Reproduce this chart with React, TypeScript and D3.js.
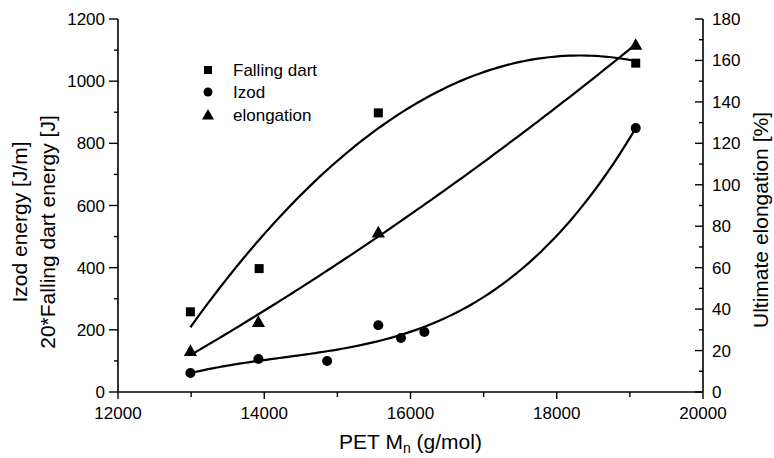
import React from "react";
import * as d3 from "d3";

const dartX = [12990, 13930, 15560, 19080];
const dartY = [258, 397, 898, 1058];
const izodX = [12990, 13920, 14860, 15560, 15870, 16190, 19080];
const izodY = [61, 106, 100, 215, 174, 193, 849];
const elongX = [12990, 13920, 15560, 19080];
const elongY = [19.8, 33.8, 77, 167.5];

const xTicks = [12000, 14000, 16000, 18000, 20000];
const leftTicks = [0, 200, 400, 600, 800, 1000, 1200];
const rightTicks = [0, 20, 40, 60, 80, 100, 120, 140, 160, 180];

const legendItems = ["Falling dart", "Izod", "elongation"];

function polyfit(xs: number[], ys: number[], deg: number) {
  const x0 = 16000, s = 1000;
  const n = deg + 1;
  const A: number[][] = Array.from({ length: n }, () => new Array(n + 1).fill(0));
  xs.forEach((xv, k) => {
    const u = (xv - x0) / s;
    for (let i = 0; i < n; i++) {
      for (let j = 0; j < n; j++) A[i][j] += Math.pow(u, i + j);
      A[i][n] += Math.pow(u, i) * ys[k];
    }
  });
  for (let i = 0; i < n; i++) {
    let p = i;
    for (let r = i + 1; r < n; r++) if (Math.abs(A[r][i]) > Math.abs(A[p][i])) p = r;
    [A[i], A[p]] = [A[p], A[i]];
    for (let r = 0; r < n; r++) {
      if (r === i) continue;
      const f = A[r][i] / A[i][i];
      for (let c = i; c <= n; c++) A[r][c] -= f * A[i][c];
    }
  }
  const coef = A.map((row, i) => row[n] / row[i]);
  return (xv: number) => {
    const u = (xv - x0) / s;
    return coef.reduce((acc, c, i) => acc + c * Math.pow(u, i), 0);
  };
}

const FONT = "'Liberation Sans', Arial, Helvetica, sans-serif";

export default function App() {
  const W = 774, H = 458;
  const L = 118, R = 703, T = 19, B = 392;
  const x = d3.scaleLinear().domain([12000, 20000]).range([L, R]);
  const yL = d3.scaleLinear().domain([0, 1200]).range([B, T]);
  const yR = d3.scaleLinear().domain([0, 180]).range([B, T]);

  const fitDart = polyfit(dartX, dartY, 2);
  const fitIzod = polyfit(izodX, izodY, 3);
  const fitElong = polyfit(elongX, elongY, 2);

  const samples = (lo: number, hi: number) => d3.range(0, 101).map((i) => lo + ((hi - lo) * i) / 100);
  const lineL = d3.line<[number, number]>().x((d) => x(d[0])).y((d) => yL(d[1]));
  const lineR = d3.line<[number, number]>().x((d) => x(d[0])).y((d) => yR(d[1]));

  const dartPath = lineL(samples(d3.min(dartX)!, d3.max(dartX)!).map((v) => [v, fitDart(v)] as [number, number]));
  const izodPath = lineL(samples(d3.min(izodX)!, d3.max(izodX)!).map((v) => [v, fitIzod(v)] as [number, number]));
  const elongPath = lineR(samples(d3.min(elongX)!, d3.max(elongX)!).map((v) => [v, fitElong(v)] as [number, number]));

  const sq = 9;
  const tri = (cx: number, cy: number, s: number) =>
    `M${cx},${cy - s * 0.6}L${cx + s * 0.6},${cy + s * 0.45}L${cx - s * 0.6},${cy + s * 0.45}Z`;

  const xMinor = d3.range(12000, 20001, 1000);
  const lMinor = d3.range(0, 1201, 100);
  const rMinor = d3.range(0, 181, 10);

  return (
    <svg width={W} height={H} style={{ position: "absolute", left: 0, top: 0, background: "#fff" }} fontFamily={FONT}>
      <rect width={W} height={H} fill="#fff" />
      {/* axes */}
      <line x1={L} y1={T} x2={L} y2={B} stroke="#000" strokeWidth={1.6} />
      <line x1={R} y1={T} x2={R} y2={B} stroke="#000" strokeWidth={1.6} />
      <line x1={L} y1={B} x2={R} y2={B} stroke="#000" strokeWidth={1.6} />
      {/* left ticks */}
      {lMinor.map((v) => (
        <line key={"lm" + v} x1={L} x2={L - (v % 200 === 0 ? 9 : 4)} y1={yL(v)} y2={yL(v)} stroke="#000" strokeWidth={1.4} />
      ))}
      {leftTicks.map((v) => (
        <text key={"lt" + v} x={L - 13} y={yL(v) + 6} textAnchor="end" fontSize={17}>{v}</text>
      ))}
      {/* right ticks */}
      {rMinor.map((v) => (
        <line key={"rm" + v} x1={R} x2={R - (v % 20 === 0 ? 8 : 4)} y1={yR(v)} y2={yR(v)} stroke="#000" strokeWidth={1.4} />
      ))}
      {rightTicks.map((v) => (
        <text key={"rt" + v} x={R + 9} y={yR(v) + 6} textAnchor="start" fontSize={17}>{v}</text>
      ))}
      {/* bottom ticks */}
      {xMinor.map((v) => (
        <line key={"xm" + v} x1={x(v)} x2={x(v)} y1={B} y2={B + (v % 2000 === 0 ? 7 : 5)} stroke="#000" strokeWidth={1.4} />
      ))}
      {xTicks.map((v) => (
        <text key={"xt" + v} x={x(v)} y={B + 27} textAnchor="middle" fontSize={17}>{v}</text>
      ))}
      {/* axis titles */}
      <text x={(L + R) / 2} y={449} textAnchor="middle" fontSize={21}>
        PET M<tspan fontSize={14} dy={4}>n</tspan><tspan dy={-4}> (g/mol)</tspan>
      </text>
      <text transform={`translate(27,${222}) rotate(-90)`} textAnchor="middle" fontSize={21}>Izod energy [J/m]</text>
      <text transform={`translate(55,${232}) rotate(-90)`} textAnchor="middle" fontSize={21}>20*Falling dart energy [J]</text>
      <text transform={`translate(768,${220}) rotate(-90)`} textAnchor="middle" fontSize={21}>Ultimate elongation [%]</text>
      {/* curves */}
      <path d={dartPath!} fill="none" stroke="#000" strokeWidth={2.2} />
      <path d={izodPath!} fill="none" stroke="#000" strokeWidth={2.2} />
      <path d={elongPath!} fill="none" stroke="#000" strokeWidth={2.2} />
      {/* markers */}
      {dartX.map((v, i) => (
        <rect key={"d" + i} x={x(v) - sq / 2} y={yL(dartY[i]) - sq / 2} width={sq} height={sq} fill="#000" />
      ))}
      {izodX.map((v, i) => (
        <circle key={"z" + i} cx={x(v)} cy={yL(izodY[i])} r={5} fill="#000" />
      ))}
      {elongX.map((v, i) => (
        <path key={"e" + i} d={tri(x(v), yR(elongY[i]), 11)} fill="#000" />
      ))}
      {/* legend */}
      <rect x={208 - 4} y={70 - 4} width={8} height={8} fill="#000" />
      <circle cx={208} cy={92} r={4.5} fill="#000" />
      <path d={tri(208, 115, 10)} fill="#000" />
      {legendItems.map((t, i) => (
        <text key={"lg" + i} x={233} y={[70, 92, 115][i] + 6} fontSize={17}>{t}</text>
      ))}
    </svg>
  );
}
